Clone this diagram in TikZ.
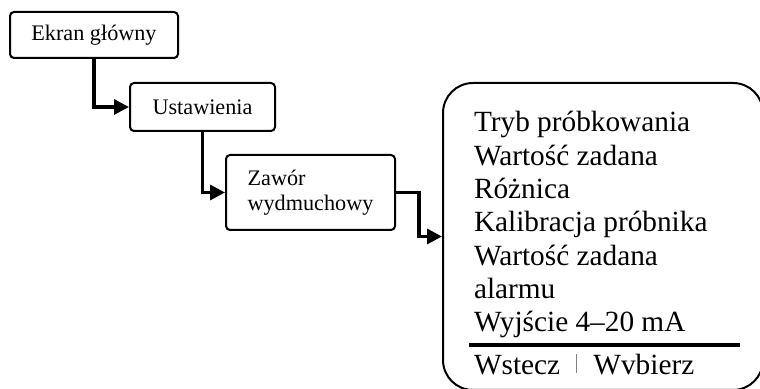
\documentclass[tikz,border=0pt]{standalone}
\usepackage{fontspec}
\setmainfont{Liberation Serif}
\usetikzlibrary{arrows.meta}

\begin{document}
\begin{tikzpicture}[x=0.5pt, y=-0.5pt, line width=1pt,
  screen/.style={draw, rounded corners=2pt, inner sep=0pt, font=\fontsize{11.1}{12.2}\selectfont},
  link/.style={-{Triangle[length=7.5pt, width=7.5pt]}, line width=1.6pt}]
  \useasboundingbox (0,0) rectangle (760,389);
  \clip (0,0) rectangle (760,389);
  \node[screen, minimum width=84pt, minimum height=23pt] (ekran) at (94,35) {Ekran główny};
  \node[screen, minimum width=72.5pt, minimum height=24pt] (ustaw) at (202.5,107) {Ustawienia};
  \node[screen, minimum width=84.5pt, minimum height=37.5pt, align=left] (zawor) at (310.5,192.5) {Zawór\\wydmuchowy};
  \node[draw, rounded corners=15pt, minimum width=160pt, minimum height=153.5pt] (menu) at (603,236.5) {};
  \node[anchor=north west, inner sep=0pt, align=left, font=\fontsize{14.65}{16.65}\selectfont] (items) at (473,110.5)
    {Tryb próbkowania\\Wartość zadana\\Różnica\\Kalibracja próbnika\\Wartość zadana\\alarmu\\Wyjście 4–20 mA};
  \draw[line width=2.2pt] (469,345) -- (740,345);
  \node[anchor=base west, inner sep=0pt, font=\fontsize{14.65}{16.65}\selectfont] (footer) at (473,375)
    {Wstecz\hspace{8pt}\textcolor{gray}{\rule[1pt]{0.6pt}{9.5pt}}\hspace{8pt}Wvbierz};
  \draw[link] (ekran.south) |- (ustaw.west);
  \draw[link] (ustaw.south) |- (zawor.west);
  \draw[link] (zawor.east) -- ++(23,0) |- (menu.west);
\end{tikzpicture}
\end{document}
